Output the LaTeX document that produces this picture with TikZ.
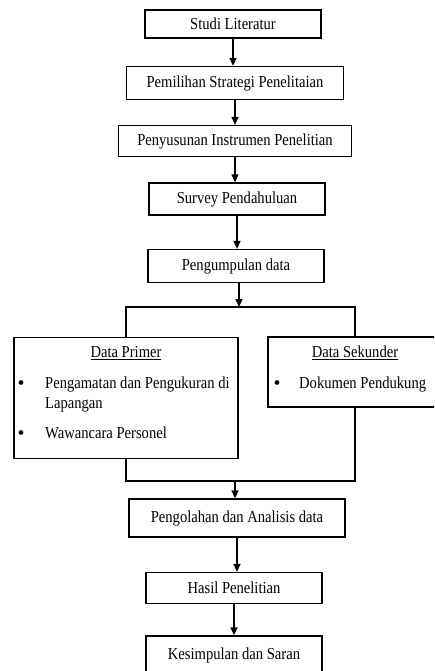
\documentclass[tikz,border=0pt]{standalone}
\usepackage{fontspec}
\usepackage{graphicx}
\setmainfont{Liberation Serif}
\usetikzlibrary{arrows.meta}
\newcommand\fsz{\fontsize{14.6}{17}\selectfont}
\newcommand\tallt[1]{\scalebox{1}[1.15]{#1}}
\newcommand\bigbul{\raisebox{-1.6pt}{\scalebox{1.35}{\textbullet}}}
\begin{document}
\begin{tikzpicture}[x=1pt,y=-1pt,
  box/.style={draw,line width=1.3pt,inner sep=0pt,font=\fsz},
  txt/.style={inner sep=0pt,font=\fsz},
  conn/.style={line width=1.3pt},
  arr/.style={line width=1.3pt,-{Triangle[length=8pt,width=7pt]}}]
\clip (0,0) rectangle (434,671);
\fill[white] (0,0) rectangle (434,671);
% main boxes
\node[box,minimum width=176,minimum height=28] (b1) at (233,24) {\tallt{Studi Literatur}};
\node[box,minimum width=217,minimum height=33] (b2) at (235,83) {\tallt{Pemilihan Strategi Penelitaian}};
\node[box,minimum width=233,minimum height=31] (b3) at (235,141) {\tallt{Penyusunan Instrumen Penelitian}};
\node[box,minimum width=176,minimum height=32] (b4) at (237,199) {\tallt{Survey Pendahuluan}};
\node[box,minimum width=176,minimum height=33] (b5) at (236,266) {\tallt{Pengumpulan data}};
\node[box,minimum width=224,minimum height=121] (dp) at (126,398) {};
\node[box,minimum width=174,minimum height=70] (ds) at (355,372) {};
\node[box,minimum width=216,minimum height=38] (b6) at (237,518) {\tallt{Pengolahan dan Analisis data}};
\node[box,minimum width=176,minimum height=31] (b7) at (234,588) {\tallt{Hasil Penelitian}};
\node[box,minimum width=176,minimum height=38] (b8) at (234,655) {\tallt{Kesimpulan dan Saran}};
% Data Primer contents
\node[txt,anchor=base] (dpt) at (126,357) {\tallt{\underline{Data Primer}}};
\node[txt,anchor=base] (dpb1) at (21,388) {\bigbul};
\node[txt,anchor=base west] (dpi1) at (45,388) {\tallt{Pengamatan dan Pengukuran di}};
\node[txt,anchor=base west] (dpi1b) at (45,408) {\tallt{Lapangan}};
\node[txt,anchor=base] (dpb2) at (21,438) {\bigbul};
\node[txt,anchor=base west] (dpi2) at (45,438) {\tallt{Wawancara Personel}};
% Data Sekunder contents
\node[txt,anchor=base] (dst) at (355,357) {\tallt{\underline{Data Sekunder}}};
\node[txt,anchor=base] (dsb1) at (277,388) {\bigbul};
\node[txt,anchor=base west] (dsi1) at (299,388) {\tallt{Dokumen Pendukung}};
% connectors
\draw[arr] (b1.south) -- (b1.south |- b2.north);
\draw[arr] (b2.south) -- (b2.south |- b3.north);
\draw[arr] (b3.south) -- (b3.south |- b4.north);
\draw[arr] (b4.south) -- (b4.south |- b5.north);
\coordinate (split) at (239,307);
\draw[arr] (b5.south -| split) -- (split);
\draw[conn] (dp.north) |- (split) -| (ds.north);
\coordinate (merge) at (235,481);
\draw[conn] (dp.south) |- (merge) -| (ds.south);
\draw[arr] (merge) -- (merge |- b6.north);
\draw[arr] (b6.south) -- (b6.south |- b7.north);
\draw[arr] (b7.south) -- (b7.south |- b8.north);
\end{tikzpicture}
\end{document}
